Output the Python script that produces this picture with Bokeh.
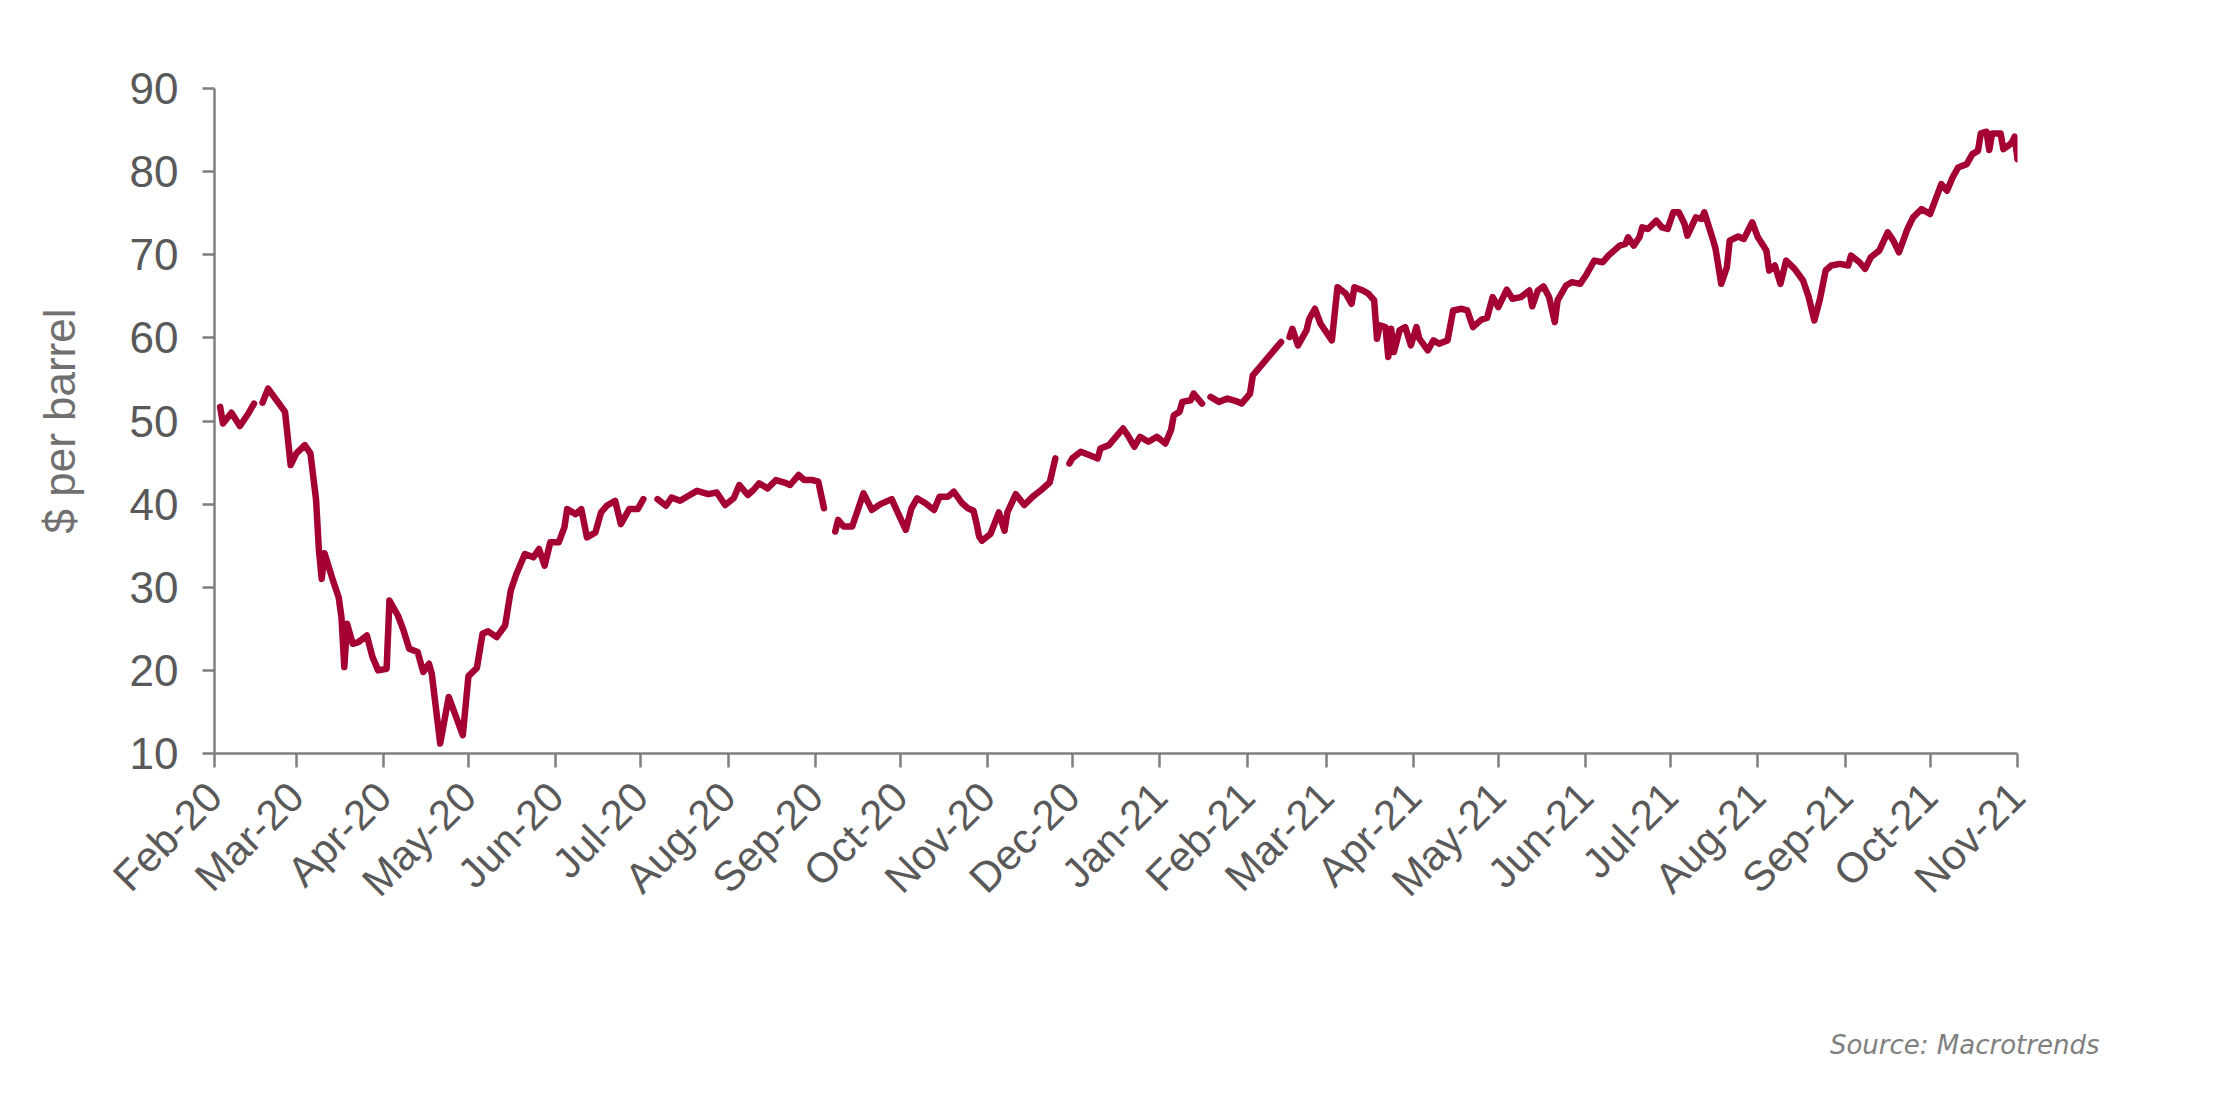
import math
from datetime import datetime

import pandas as pd
from bokeh.plotting import figure
from bokeh.models import (ColumnDataSource, Range1d, FixedTicker, DatetimeTickFormatter,
                          Title)
from bokeh.embed import file_html
from bokeh.resources import INLINE

NaN = float("nan")

dates = [
    "2020-02-03", "2020-02-04", "2020-02-07", "2020-02-10", "2020-02-13", "2020-02-15", "2020-02-16",
    "2020-02-18", "2020-02-20", "2020-02-23", "2020-02-26", "2020-02-28", "2020-03-01", "2020-03-04",
    "2020-03-06", "2020-03-08", "2020-03-09", "2020-03-10", "2020-03-11", "2020-03-13", "2020-03-14",
    "2020-03-16", "2020-03-17", "2020-03-18", "2020-03-19", "2020-03-21", "2020-03-23", "2020-03-26",
    "2020-03-28", "2020-03-30", "2020-04-02", "2020-04-03", "2020-04-06", "2020-04-08", "2020-04-10",
    "2020-04-13", "2020-04-15", "2020-04-17", "2020-04-18", "2020-04-21", "2020-04-24", "2020-04-29",
    "2020-05-01", "2020-05-04", "2020-05-06", "2020-05-08", "2020-05-11", "2020-05-14", "2020-05-16",
    "2020-05-18", "2020-05-21", "2020-05-24", "2020-05-26", "2020-05-28", "2020-05-30", "2020-06-02",
    "2020-06-04", "2020-06-05", "2020-06-08", "2020-06-10", "2020-06-12", "2020-06-15", "2020-06-17",
    "2020-06-19", "2020-06-22", "2020-06-24", "2020-06-27", "2020-06-30", "2020-07-02", "2020-07-04",
    "2020-07-07", "2020-07-10", "2020-07-12", "2020-07-15", "2020-07-18", "2020-07-21", "2020-07-25",
    "2020-07-28", "2020-07-31", "2020-08-03", "2020-08-05", "2020-08-08", "2020-08-10", "2020-08-12",
    "2020-08-15", "2020-08-18", "2020-08-21", "2020-08-23", "2020-08-26", "2020-08-28", "2020-08-31",
    "2020-09-02", "2020-09-04", "2020-09-06", "2020-09-08", "2020-09-09", "2020-09-11", "2020-09-14",
    "2020-09-16", "2020-09-18", "2020-09-21", "2020-09-24", "2020-09-28", "2020-09-30", "2020-10-03",
    "2020-10-05", "2020-10-07", "2020-10-10", "2020-10-13", "2020-10-15", "2020-10-18", "2020-10-20",
    "2020-10-23", "2020-10-25", "2020-10-27", "2020-10-28", "2020-10-29", "2020-10-30", "2020-11-02",
    "2020-11-05", "2020-11-07", "2020-11-08", "2020-11-11", "2020-11-14", "2020-11-17", "2020-11-20",
    "2020-11-23", "2020-11-25", "2020-11-27", "2020-11-30", "2020-12-01", "2020-12-04", "2020-12-07",
    "2020-12-10", "2020-12-11", "2020-12-14", "2020-12-16", "2020-12-19", "2020-12-21", "2020-12-23",
    "2020-12-25", "2020-12-28", "2020-12-31", "2021-01-03", "2021-01-05", "2021-01-06", "2021-01-08",
    "2021-01-09", "2021-01-12", "2021-01-13", "2021-01-16", "2021-01-17", "2021-01-19", "2021-01-22",
    "2021-01-25", "2021-01-28", "2021-01-30", "2021-02-02", "2021-02-03", "2021-02-06", "2021-02-09",
    "2021-02-11", "2021-02-13", "2021-02-14", "2021-02-16", "2021-02-17", "2021-02-19", "2021-02-22",
    "2021-02-23", "2021-02-25", "2021-02-27", "2021-03-01", "2021-03-03", "2021-03-05", "2021-03-08",
    "2021-03-10", "2021-03-11", "2021-03-14", "2021-03-16", "2021-03-18", "2021-03-19", "2021-03-20",
    "2021-03-22", "2021-03-23", "2021-03-24", "2021-03-25", "2021-03-27", "2021-03-29", "2021-03-31",
    "2021-04-02", "2021-04-03", "2021-04-06", "2021-04-08", "2021-04-10", "2021-04-13", "2021-04-15",
    "2021-04-18", "2021-04-20", "2021-04-22", "2021-04-25", "2021-04-27", "2021-04-29", "2021-05-01",
    "2021-05-04", "2021-05-06", "2021-05-09", "2021-05-12", "2021-05-13", "2021-05-15", "2021-05-17",
    "2021-05-19", "2021-05-21", "2021-05-22", "2021-05-25", "2021-05-27", "2021-05-30", "2021-06-01",
    "2021-06-04", "2021-06-07", "2021-06-09", "2021-06-11", "2021-06-13", "2021-06-15", "2021-06-16",
    "2021-06-18", "2021-06-20", "2021-06-21", "2021-06-23", "2021-06-26", "2021-06-28", "2021-06-30",
    "2021-07-02", "2021-07-04", "2021-07-06", "2021-07-07", "2021-07-10", "2021-07-12", "2021-07-13",
    "2021-07-16", "2021-07-17", "2021-07-19", "2021-07-21", "2021-07-22", "2021-07-25", "2021-07-27",
    "2021-07-30", "2021-08-01", "2021-08-04", "2021-08-05", "2021-08-07", "2021-08-09", "2021-08-11",
    "2021-08-14", "2021-08-17", "2021-08-19", "2021-08-21", "2021-08-23", "2021-08-25", "2021-08-27",
    "2021-08-30", "2021-09-02", "2021-09-03", "2021-09-06", "2021-09-08", "2021-09-10", "2021-09-13",
    "2021-09-16", "2021-09-18", "2021-09-20", "2021-09-23", "2021-09-25", "2021-09-28", "2021-10-01",
    "2021-10-03", "2021-10-05", "2021-10-07", "2021-10-09", "2021-10-11", "2021-10-14", "2021-10-16",
    "2021-10-18", "2021-10-19", "2021-10-21", "2021-10-22", "2021-10-23", "2021-10-26", "2021-10-27",
    "2021-10-29", "2021-10-30", "2021-10-31", "2021-11-01",
]

prices = [
    51.7, 49.7, 51.0, 49.4, 50.9, 52.1, NaN,
    52.2, 53.9, 52.5, 51.1, 44.7, 46.1, 47.1,
    46.1, 40.5, 34.5, 31.0, 34.1, 31.9, 30.8,
    28.8, 26.4, 20.4, 25.6, 23.2, 23.4, 24.2,
    21.6, 20.0, 20.2, 28.4, 26.6, 24.8, 22.6,
    22.2, 19.8, 20.8, 19.6, 11.2, 16.8, 12.2,
    19.3, 20.3, 24.4, 24.7, 24.0, 25.4, 29.6,
    31.6, 34.0, 33.6, 34.6, 32.6, 35.4, 35.4,
    37.2, 39.4, 38.8, 39.4, 36.0, 36.6, 39.0,
    39.8, 40.4, 37.6, 39.4, 39.4, 40.6, NaN,
    40.6, 39.8, 40.8, 40.4, 41.0, 41.6, 41.2,
    41.4, 39.9, 40.7, 42.3, 41.1, 41.7, 42.5,
    41.9, 42.9, 42.6, 42.3, 43.5, 42.9, 42.9,
    42.7, 39.5, NaN, 36.7, 38.1, 37.3, 37.3,
    39.3, 41.3, 39.3, 40.0, 40.6, 39.1, 36.9,
    39.5, 40.7, 40.1, 39.3, 40.9, 40.9, 41.5,
    40.1, 39.5, 39.2, 37.8, 36.1, 35.6, 36.4,
    39.0, 36.8, 39.0, 41.2, 39.9, 40.9, 41.7,
    42.6, 45.5, NaN, 44.9, 45.5, 46.3, 45.9,
    45.5, 46.7, 47.1, 47.9, 49.1, 48.1, 46.9,
    48.1, 47.5, 48.1, 47.3, 48.9, 50.7, 51.1,
    52.3, 52.5, 53.3, 52.1, NaN, 52.9, 52.3,
    52.7, 52.4, 52.1, 53.3, 55.5, 56.7, 57.9,
    58.7, 59.5, NaN, 60.1, 61.1, 59.1, 60.9,
    62.3, 63.5, 61.7, 60.7, 59.7, 66.1, 65.3,
    64.1, 66.1, 65.7, 65.3, 64.5, 59.9, 61.5,
    61.3, 57.7, 61.1, 58.3, 60.9, 61.3, 59.1,
    61.3, 59.9, 58.5, 59.7, 59.3, 59.7, 63.3,
    63.5, 63.3, 61.3, 62.2, 62.4, 64.9, 63.7,
    65.8, 64.7, 64.9, 65.7, 63.8, 65.7, 66.2,
    64.9, 61.9, 64.5, 66.3, 66.7, 66.5, 67.5,
    69.3, 69.1, 69.9, 70.5, 71.1, 71.3, 72.1,
    71.1, 72.1, 73.3, 73.1, 74.1, 73.3, 73.1,
    75.1, 75.1, 73.7, 72.3, 74.5, 74.3, 75.1,
    71.9, 70.7, 66.5, 68.5, 71.7, 72.2, 71.9,
    73.9, 72.1, 70.5, 68.1, 68.7, 66.5, 69.3,
    68.3, 66.9, 64.9, 62.1, 64.7, 68.1, 68.7,
    68.9, 68.7, 69.9, 69.1, 68.3, 69.7, 70.5,
    72.7, 71.7, 70.3, 73.1, 74.5, 75.5, 74.9,
    76.7, 78.5, 77.7, 79.3, 80.5, 80.9, 82.1,
    82.5, 84.6, 84.8, 82.6, 84.6, 84.6, 82.7,
    83.2, 83.5, 84.2, 81.5,
]

month_ticks = pd.date_range("2020-02-01", "2021-11-01", freq="MS")
y_ticks = [10, 20, 30, 40, 50, 60, 70, 80, 90]
y_label = "$ per barrel"
source_note = "Source: Macrotrends"

LINE = "#A50034"
GRAY = "#595959"
AXIS = "#7f7f7f"
FONT = "Liberation Sans"

src = ColumnDataSource(data=dict(date=pd.to_datetime(dates), price=prices))

p = figure(frame_width=1803, frame_height=665,
           x_axis_type="datetime",
           x_range=Range1d(datetime(2020, 2, 1), datetime(2021, 11, 1)),
           y_range=Range1d(10, 90),
           output_backend="svg", toolbar_location=None,
           min_border_left=214, min_border_top=88,
           min_border_right=195, min_border_bottom=322)
p.outline_line_color = None
p.xgrid.visible = False
p.ygrid.visible = False
p.background_fill_color = "white"
p.border_fill_color = "white"

p.line("date", "price", source=src, line_color=LINE, line_width=6.5,
       line_join="round", line_cap="round")

# y axis
ya = p.yaxis[0]
ya.ticker = FixedTicker(ticks=y_ticks)
ya.axis_label = y_label
ya.axis_label_text_font = FONT
ya.axis_label_text_font_style = "normal"
ya.axis_label_text_font_size = "44px"
ya.axis_label_text_color = "#707070"
ya.axis_label_standoff = 43
ya.major_label_text_font = FONT
ya.major_label_text_font_size = "44px"
ya.major_label_text_color = GRAY
ya.major_label_standoff = 24
ya.axis_line_color = AXIS
ya.axis_line_width = 2.5
ya.major_tick_line_color = AXIS
ya.major_tick_line_width = 2.5
ya.major_tick_out = 12
ya.major_tick_in = 0
ya.minor_tick_line_color = None

# x axis
xa = p.xaxis[0]
xa.ticker = FixedTicker(ticks=[t.timestamp() * 1000 for t in month_ticks])
fmt = "%b-%y"
xa.formatter = DatetimeTickFormatter(days=fmt, months=fmt, years=fmt, hours=fmt,
                                     hourmin=fmt, minutes=fmt, minsec=fmt,
                                     seconds=fmt, milliseconds=fmt, microseconds=fmt)
xa.major_label_orientation = math.pi / 4
xa.major_label_text_font = FONT
xa.major_label_text_font_size = "42px"
xa.major_label_text_color = GRAY
xa.major_label_standoff = 22
xa.axis_line_color = AXIS
xa.axis_line_width = 2.5
xa.major_tick_line_color = AXIS
xa.major_tick_line_width = 2.5
xa.major_tick_out = 14
xa.major_tick_in = 0
xa.minor_tick_line_color = None

note = Title(text=source_note, align="right", offset=-82, standoff=206,
             text_font="DejaVu Sans", text_font_style="italic",
             text_font_size="26px", text_color="#808080")
p.add_layout(note, "below")

open("out.html", "w").write(file_html(p, INLINE))
